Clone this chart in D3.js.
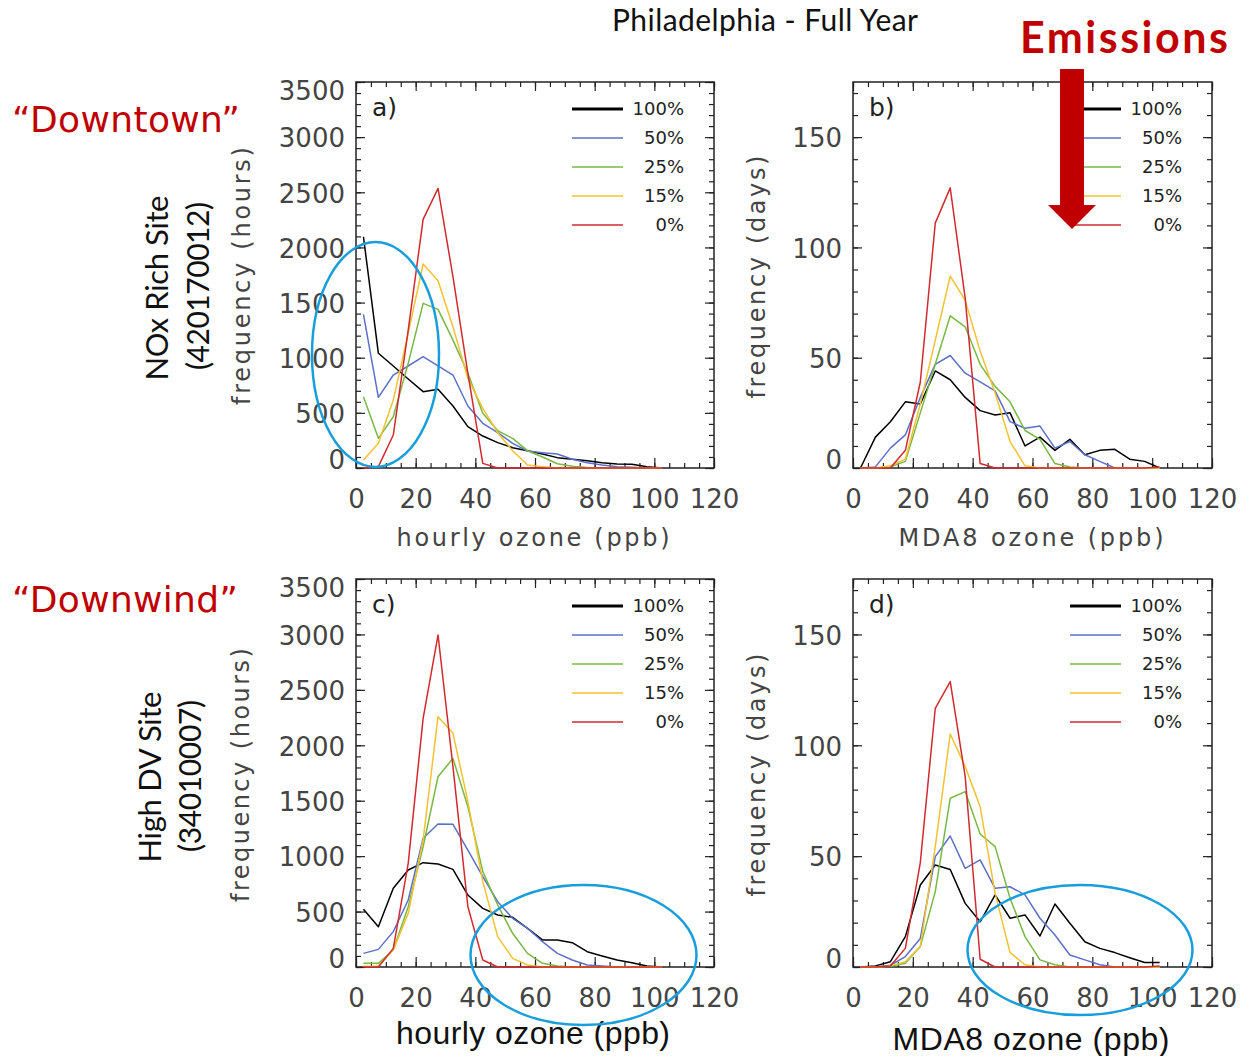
<!DOCTYPE html>
<html>
<head>
<meta charset="utf-8">
<script src="https://cdn.jsdelivr.net/npm/d3@7"></script>
<style>
  body { margin: 0; background: #fff; }
  svg { display: block; }
</style>
</head>
<body>
<svg id="chart" width="1240" height="1056"></svg>
<script>
// bin centres (ppb)
const ozoneBins = [2.5, 7.5, 12.5, 17.5, 22.5, 27.5, 32.5, 37.5, 42.5, 47.5, 52.5,
  57.5, 62.5, 67.5, 72.5, 77.5, 82.5, 87.5, 92.5, 97.5, 102.5];
const cases = ["100%", "50%", "25%", "15%", "0%"];
const xTicks = [0, 20, 40, 60, 80, 100, 120];
const hourTicks = [0, 500, 1000, 1500, 2000, 2500, 3000, 3500];
const dayTicks = [0, 50, 100, 150];

// a) downtown, hourly (hours)
const a100 = [2097, 1040, 925, 807, 692, 713, 562, 375, 290, 230, 184, 157, 127, 94, 79, 66, 48, 36, 33, 12, 0];
const a50  = [1393, 641, 843, 925, 1009, 925, 843, 562, 405, 320, 224, 154, 139, 127, 79, 48, 27, 12, 6, 0, 0];
const a25  = [647, 269, 465, 949, 1493, 1438, 1160, 858, 496, 338, 269, 157, 100, 39, 15, 5, 0, 0, 0, 0, 0];
const a15  = [73, 224, 616, 1221, 1850, 1698, 1281, 813, 541, 320, 157, 27, 12, 0, 0, 0, 0, 0, 0, 0, 0];
const a0   = [0, 12, 299, 1251, 2254, 2535, 1735, 858, 42, 0, 0, 0, 0, 0, 0, 0, 0, 0, 0, 0, 0];

// b) downtown, MDA8 (days)
const b100 = [0, 14, 21, 30, 29, 44, 40, 32, 26, 24, 25, 10, 14, 8, 13, 6, 8, 8.5, 4, 3, 0];
const b50  = [0, 0.5, 9, 15, 32, 47, 51, 43, 39, 35, 21, 18, 19, 9, 12, 6, 3, 0, 0, 0, 0];
const b25  = [0, 0, 0.5, 3, 25, 47, 69, 64, 47, 37, 30, 17, 13, 2, 0.5, 0, 0, 0, 0, 0, 0];
const b15  = [0, 0, 1, 4, 29, 58, 87, 76, 53, 34, 12, 1, 0, 0, 0, 0, 0, 0, 0, 0, 0];
const b0   = [0, 0, 0, 8, 39, 111, 127, 77, 2, 0, 0, 0, 0, 0, 0, 0, 0, 0, 0, 0, 0.5];

// c) downwind, hourly (hours)
const c100 = [520, 364, 710, 875, 941, 929, 881, 649, 529, 469, 448, 349, 244, 244, 219, 138, 99, 63, 39, 9, 0];
const c50  = [123, 159, 319, 604, 1161, 1290, 1287, 1055, 815, 589, 439, 349, 229, 123, 63, 18, 9, 0, 0, 0, 0];
const c25  = [33, 33, 153, 544, 1085, 1717, 1882, 1446, 860, 559, 304, 123, 33, 9, 0, 0, 0, 0, 0, 0, 0];
const c15  = [6, 9, 153, 484, 1146, 2258, 2108, 1491, 770, 274, 78, 18, 0, 0, 0, 0, 0, 0, 0, 0, 0];
const c0   = [0, 0, 168, 935, 2243, 2995, 1807, 544, 63, 0, 0, 0, 0, 0, 0, 0, 0, 0, 0, 0, 0];

// d) downwind, MDA8 (days)
const d100 = [0, 0.5, 2.4, 13.7, 37, 46, 44, 28.7, 20.4, 32.5, 22, 23.5, 14, 28.4, 19.7, 11.4, 8.4, 6.5, 4.2, 2, 2];
const d50  = [0, 0, 0.8, 4.7, 12.9, 49.8, 59.1, 44.5, 48.3, 35.5, 36.2, 32.5, 22, 14.4, 5.4, 3.2, 1, 0, 0, 0, 0];
const d25  = [0, 0, 0.3, 1.7, 9.2, 34, 76.1, 79.1, 60, 54.3, 31, 13.7, 3.2, 1, 0, 0, 0, 0, 0, 0, 0];
const d15  = [0, 0, 0.5, 2.4, 9.2, 54.3, 105.1, 90.4, 72.3, 33.2, 6.5, 1, 0, 0, 0, 0, 0, 0, 0, 0, 0];
const d0   = [0, 0, 0.5, 8.4, 47.1, 116.7, 128.7, 85.9, 3.5, 0, 0, 0, 0, 0, 0, 0, 0, 0, 0, 0, 0.5];

const colors = ["#000000", "#5b70c8", "#79b845", "#f2c232", "#d12a30"];
const red = "#c00000";
const tickFont = "'DejaVu Sans', Verdana, sans-serif";
const tickWeight = 400;
const tickFill = "#444";

const panels = [
  { tag: "a)", left: 356, right: 714, top: 82, bottom: 468, yMax: 3500, yTicks: hourTicks, yMinor: 100,
    series: [a100, a50, a25, a15, a0] },
  { tag: "b)", left: 853, right: 1212, top: 82, bottom: 468, yMax: 175, yTicks: dayTicks, yMinor: 10,
    series: [b100, b50, b25, b15, b0] },
  { tag: "c)", left: 356, right: 714, top: 579, bottom: 967, yMax: 3500, yTicks: hourTicks, yMinor: 100,
    series: [c100, c50, c25, c15, c0] },
  { tag: "d)", left: 853, right: 1212, top: 579, bottom: 967, yMax: 175, yTicks: dayTicks, yMinor: 10,
    series: [d100, d50, d25, d15, d0] }
];

const svg = d3.select("#chart");

function styleAxis(g) {
  g.select(".domain").remove();
  g.selectAll(".tick line").attr("stroke", "#222").attr("stroke-width", 1.2);
  g.selectAll("text").attr("font-family", tickFont).attr("font-size", 26)
    .attr("font-weight", tickWeight).attr("fill", tickFill);
}

panels.forEach(p => {
  const x = d3.scaleLinear().domain([0, 120]).range([p.left, p.right]);
  const y = d3.scaleLinear().domain([0, p.yMax]).range([p.bottom, p.top]);
  const g = svg.append("g");
  const xMinor = d3.range(0, 121, 5);
  const yMinor = d3.range(0, p.yMax + 1, p.yMinor);

  // minor ticks on all four sides
  g.append("g").attr("transform", `translate(0,${p.bottom})`)
    .call(d3.axisBottom(x).tickValues(xMinor).tickSize(-5).tickFormat("")).call(styleAxis);
  g.append("g").attr("transform", `translate(0,${p.top})`)
    .call(d3.axisTop(x).tickValues(xMinor).tickSize(-5).tickFormat("")).call(styleAxis);
  g.append("g").attr("transform", `translate(${p.left},0)`)
    .call(d3.axisLeft(y).tickValues(yMinor).tickSize(-5).tickFormat("")).call(styleAxis);
  g.append("g").attr("transform", `translate(${p.right},0)`)
    .call(d3.axisRight(y).tickValues(yMinor).tickSize(-5).tickFormat("")).call(styleAxis);

  // major ticks + labels
  g.append("g").attr("transform", `translate(0,${p.bottom})`)
    .call(d3.axisBottom(x).tickValues(xTicks).tickSize(-10).tickPadding(22).tickFormat(d3.format("d")))
    .call(styleAxis);
  g.append("g").attr("transform", `translate(0,${p.top})`)
    .call(d3.axisTop(x).tickValues(xTicks).tickSize(-9).tickFormat("")).call(styleAxis);
  const yl = g.append("g").attr("transform", `translate(${p.left},0)`)
    .call(d3.axisLeft(y).tickValues(p.yTicks).tickSize(-9).tickPadding(11).tickFormat(d3.format("d")))
    .call(styleAxis);
  yl.selectAll(".tick text").attr("transform", d => d === 0 ? "translate(0,-8)" : d === p.yMax ? "translate(0,9)" : "translate(0,1.5)");
  g.append("g").attr("transform", `translate(${p.right},0)`)
    .call(d3.axisRight(y).tickValues(p.yTicks).tickSize(-9).tickFormat("")).call(styleAxis);

  // frame
  g.append("rect").attr("x", p.left).attr("y", p.top)
    .attr("width", p.right - p.left).attr("height", p.bottom - p.top)
    .attr("fill", "none").attr("stroke", "#222").attr("stroke-width", 1.5);

  // series lines
  const line = d3.line().x((d, i) => x(ozoneBins[i])).y(d => y(d));
  p.series.forEach((vals, k) => {
    g.append("path").datum(vals).attr("d", line)
      .attr("fill", "none").attr("stroke", colors[k]).attr("stroke-width", 1.5)
      .attr("stroke-linejoin", "round");
  });

  // panel tag
  g.append("text").attr("x", p.left + 16).attr("y", p.top + 34)
    .attr("font-family", tickFont).attr("font-size", 25).attr("fill", "#222")
    .text(p.tag);

  // legend
  cases.forEach((c, k) => {
    const ly = p.top + 27 + k * 29;
    g.append("line").attr("x1", p.right - 142).attr("x2", p.right - 91)
      .attr("y1", ly).attr("y2", ly)
      .attr("stroke", colors[k]).attr("stroke-width", k === 0 ? 3 : 1.5);
    g.append("text").attr("x", p.right - 30).attr("y", ly).attr("dy", "0.36em")
      .attr("text-anchor", "end").attr("font-family", tickFont).attr("font-size", 18)
      .attr("fill", "#222").text(c);
  });
});

// axis titles
function hText(txt, cx, cy, size, len, family, weight, fill) {
  svg.append("text").attr("x", cx).attr("y", cy).attr("dy", "0.35em")
    .attr("text-anchor", "middle").attr("font-family", family).attr("font-size", size)
    .attr("font-weight", weight).attr("fill", fill)
    .attr("textLength", len).attr("lengthAdjust", "spacing").text(txt);
}
function vText(txt, cx, cy, size, len, family, weight, fill) {
  svg.append("text").attr("transform", `translate(${cx},${cy}) rotate(-90)`).attr("dy", "0.35em")
    .attr("text-anchor", "middle").attr("font-family", family).attr("font-size", size)
    .attr("font-weight", weight).attr("fill", fill)
    .attr("textLength", len).attr("lengthAdjust", "spacing").text(txt);
}

hText("hourly ozone (ppb)", 533, 538, 24, 273, tickFont, tickWeight, tickFill);
hText("MDA8 ozone (ppb)", 1031, 538, 24, 265, tickFont, tickWeight, tickFill);
hText("hourly ozone (ppb)", 533, 1033, 32, 274, "'Liberation Sans', Arial, sans-serif", 400, "#111");
hText("MDA8 ozone (ppb)", 1031, 1039, 32, 277, "'Liberation Sans', Arial, sans-serif", 400, "#111");

vText("frequency (hours)", 242, 276, 24, 258, tickFont, tickWeight, tickFill);
vText("frequency (days)", 757, 277, 24, 243, tickFont, tickWeight, tickFill);
vText("frequency (hours)", 241, 775, 24, 254, tickFont, tickWeight, tickFill);
vText("frequency (days)", 757, 775, 24, 243, tickFont, tickWeight, tickFill);

const siteFont = "Lato, 'Open Sans', sans-serif";
vText("NOx Rich Site", 157, 288, 31, 185, siteFont, 400, "#111");
vText("(420170012)", 198, 286, 30, 168, siteFont, 400, "#111");
vText("High DV Site", 150, 777, 31, 171, siteFont, 400, "#111");
vText("(34010007)", 190, 776, 30, 152, siteFont, 400, "#111");

// title and annotations
svg.append("text").attr("x", 765).attr("y", 31).attr("text-anchor", "middle")
  .attr("font-family", siteFont).attr("font-size", 30).attr("fill", "#111")
  .attr("textLength", 306).attr("lengthAdjust", "spacing").text("Philadelphia - Full Year");

svg.append("text").attr("x", 1020).attr("y", 53)
  .attr("font-family", siteFont).attr("font-size", 43).attr("font-weight", 700).attr("fill", red)
  .attr("textLength", 208).attr("lengthAdjust", "spacing").text("Emissions");

svg.append("text").attr("x", 12).attr("y", 132)
  .attr("font-family", tickFont).attr("font-size", 36).attr("fill", red)
  .attr("textLength", 228).attr("lengthAdjust", "spacing").text("\u201cDowntown\u201d");
svg.append("text").attr("x", 12).attr("y", 612)
  .attr("font-family", tickFont).attr("font-size", 36).attr("fill", red)
  .attr("textLength", 226).attr("lengthAdjust", "spacing").text("\u201cDownwind\u201d");

// emissions arrow
svg.append("path")
  .attr("d", "M1060,69 L1084,69 L1084,205 L1096,205 L1072,229 L1048,205 L1060,205 Z")
  .attr("fill", red);

// highlight ellipses
const ellipses = [
  { cx: 375.5, cy: 354.5, rx: 63.5, ry: 112.5 },
  { cx: 583.5, cy: 955, rx: 113, ry: 70 },
  { cx: 1080, cy: 950, rx: 112.5, ry: 65 }
];
svg.selectAll("ellipse.hl").data(ellipses).enter().append("ellipse")
  .attr("cx", d => d.cx).attr("cy", d => d.cy).attr("rx", d => d.rx).attr("ry", d => d.ry)
  .attr("fill", "none").attr("stroke", "#1a9edb").attr("stroke-width", 2.5);
</script>
</body>
</html>
